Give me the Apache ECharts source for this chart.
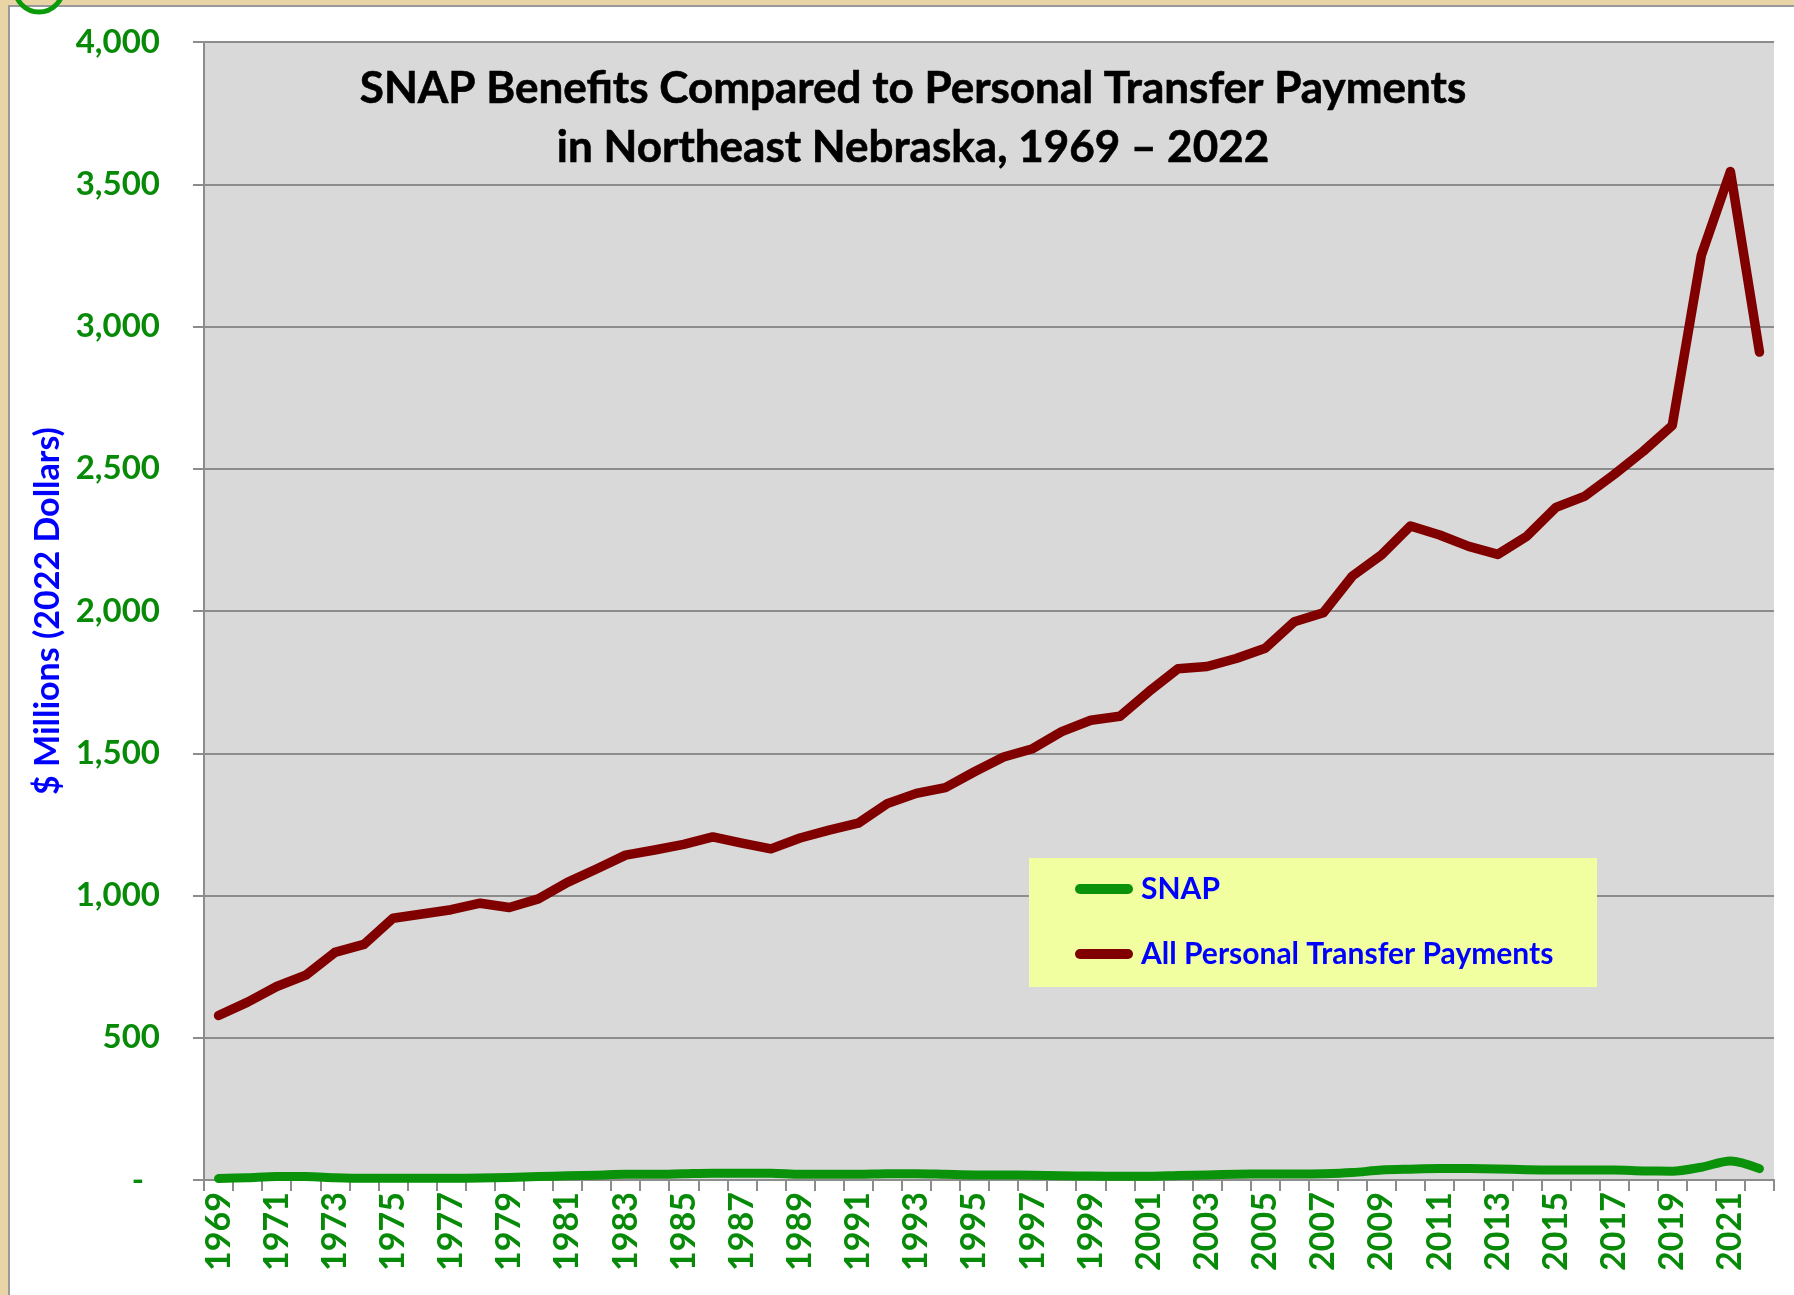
<!DOCTYPE html>
<html>
<head>
<meta charset="utf-8">
<script src="https://cdn.jsdelivr.net/npm/echarts@6/dist/echarts.min.js"></script>
<style>
  html, body { margin: 0; padding: 0; }
  body { width: 1794px; height: 1295px; background: #E9D4A6; position: relative; overflow: hidden; }
  #panel { position: absolute; left: 8px; top: 5px; width: 1800px; height: 1300px; background: #ffffff; border-left: 2px solid #9a9a9a; border-top: 2px solid #9a9a9a; box-sizing: border-box; }
  #chart { position: absolute; left: 0; top: 0; width: 1794px; height: 1295px; }
</style>
</head>
<body>
<div id="panel"></div>
<div id="chart"></div>
<script>
const years = ['1969','1970','1971','1972','1973','1974','1975','1976','1977','1978',
  '1979','1980','1981','1982','1983','1984','1985','1986','1987','1988',
  '1989','1990','1991','1992','1993','1994','1995','1996','1997','1998',
  '1999','2000','2001','2002','2003','2004','2005','2006','2007','2008',
  '2009','2010','2011','2012','2013','2014','2015','2016','2017','2018',
  '2019','2020','2021','2022'];

const snap = [5, 8, 12, 12, 8, 6, 6, 6, 6, 7,
  9, 12, 15, 17, 20, 20, 22, 24, 24, 24,
  20, 20, 20, 22, 22, 20, 18, 18, 17, 15,
  14, 13, 13, 16, 18, 20, 21, 21, 22, 26,
  35, 38, 40, 40, 39, 36, 35, 35, 35, 32,
  31, 45, 67, 40];

const transfers = [578, 625, 680, 720, 800, 828, 920, 935, 950, 973,
  958, 988, 1046, 1093, 1142, 1160, 1180, 1206, 1184, 1164,
  1202, 1230, 1254, 1323, 1359, 1379, 1435, 1487, 1516, 1576,
  1616, 1630, 1717, 1797, 1805, 1833, 1869, 1962, 1994, 2123,
  2197, 2299, 2267, 2227, 2199, 2263, 2364, 2404, 2480, 2561,
  2652, 3250, 3545, 2910];

const titleLines = ['SNAP Benefits Compared to Personal Transfer Payments', 'in Northeast Nebraska, 1969 \u2013 2022'];
const seriesNames = ['SNAP', 'All Personal Transfer Payments'];
const yAxisName = '$ Millions (2022 Dollars)';

const chart = echarts.init(document.getElementById('chart'), null, { renderer: 'canvas' });
const FONT = 'Lato';
const green = '#0A930A';
const labelGreen = '#078A07';
const red = '#800000';
const gridGray = '#8C8C8C';

chart.setOption({
  backgroundColor: 'transparent',
  animation: false,
  textStyle: { fontFamily: FONT },
  grid: { left: 204, right: 20, top: 42, bottom: 115, show: true, backgroundColor: '#D9D9D9', borderWidth: 0 },
  graphic: [
    { type: 'circle', z: 10, shape: { cx: 39, cy: -12, r: 24 }, style: { fill: 'none', stroke: '#0A9A0A', lineWidth: 5 } },
    { type: 'rect', z: 3, shape: { x: 1029, y: 858, width: 568, height: 129 }, style: { fill: '#F1FFA0' } },
    { type: 'text', z: 5, x: 913, y: 89,
      style: { text: titleLines[0], font: 'bold 44px Lato', fill: '#000000', align: 'center', verticalAlign: 'middle', stroke: '#000000', lineWidth: 0.6 } },
    { type: 'text', z: 5, x: 913, y: 148,
      style: { text: titleLines[1], font: 'bold 44px Lato', fill: '#000000', align: 'center', verticalAlign: 'middle', stroke: '#000000', lineWidth: 0.6 } }
  ],
  legend: {
    z: 6,
    orient: 'vertical',
    left: 1075,
    top: 873,
    padding: 0,
    itemGap: 33,
    itemWidth: 58,
    itemHeight: 11,
    icon: 'path://M5,0 L53,0 A5,5 0 0 1 53,10 L5,10 A5,5 0 0 1 5,0 Z',
    textStyle: { color: '#0000FF', fontWeight: 'bold', fontSize: 30, fontFamily: FONT, lineHeight: 32, padding: [0, 0, 0, 3] },
    data: seriesNames
  },
  xAxis: {
    type: 'category',
    data: years,
    boundaryGap: true,
    axisLine: { show: true, lineStyle: { color: gridGray, width: 2 } },
    axisTick: { show: true, interval: 0, length: 11, lineStyle: { color: gridGray, width: 2 } },
    axisLabel: { interval: 1, rotate: 90, margin: 12, color: labelGreen, fontWeight: 'bold', fontSize: 34, fontFamily: FONT },
    splitLine: { show: false }
  },
  yAxis: {
    type: 'value',
    min: 0, max: 4000, interval: 500,
    name: yAxisName,
    nameLocation: 'middle',
    nameGap: 132,
    nameTextStyle: { color: '#0000FF', fontWeight: 'bold', fontSize: 34, fontFamily: FONT },
    axisLine: { show: true, lineStyle: { color: gridGray, width: 2 } },
    axisTick: { show: true, length: 11, lineStyle: { color: gridGray, width: 2 } },
    axisLabel: {
      margin: 44, color: labelGreen, fontWeight: 'bold', fontSize: 33, fontFamily: FONT,
      formatter: function (v) { return v === 0 ? '-\u00a0\u00a0' : v.toLocaleString('en-US'); }
    },
    splitLine: { show: true, lineStyle: { color: gridGray, width: 2 } }
  },
  series: [
    { name: seriesNames[0], type: 'line', data: snap, showSymbol: false, symbol: 'none', smooth: 0.3, z: 2,
      color: green, itemStyle: { color: green },
      lineStyle: { color: green, width: 9, cap: 'round', join: 'round' } },
    { name: seriesNames[1], type: 'line', data: transfers, showSymbol: false, symbol: 'none', z: 2,
      color: red, itemStyle: { color: red },
      lineStyle: { color: red, width: 9.5, cap: 'round', join: 'round' } }
  ]
});
</script>
</body>
</html>
